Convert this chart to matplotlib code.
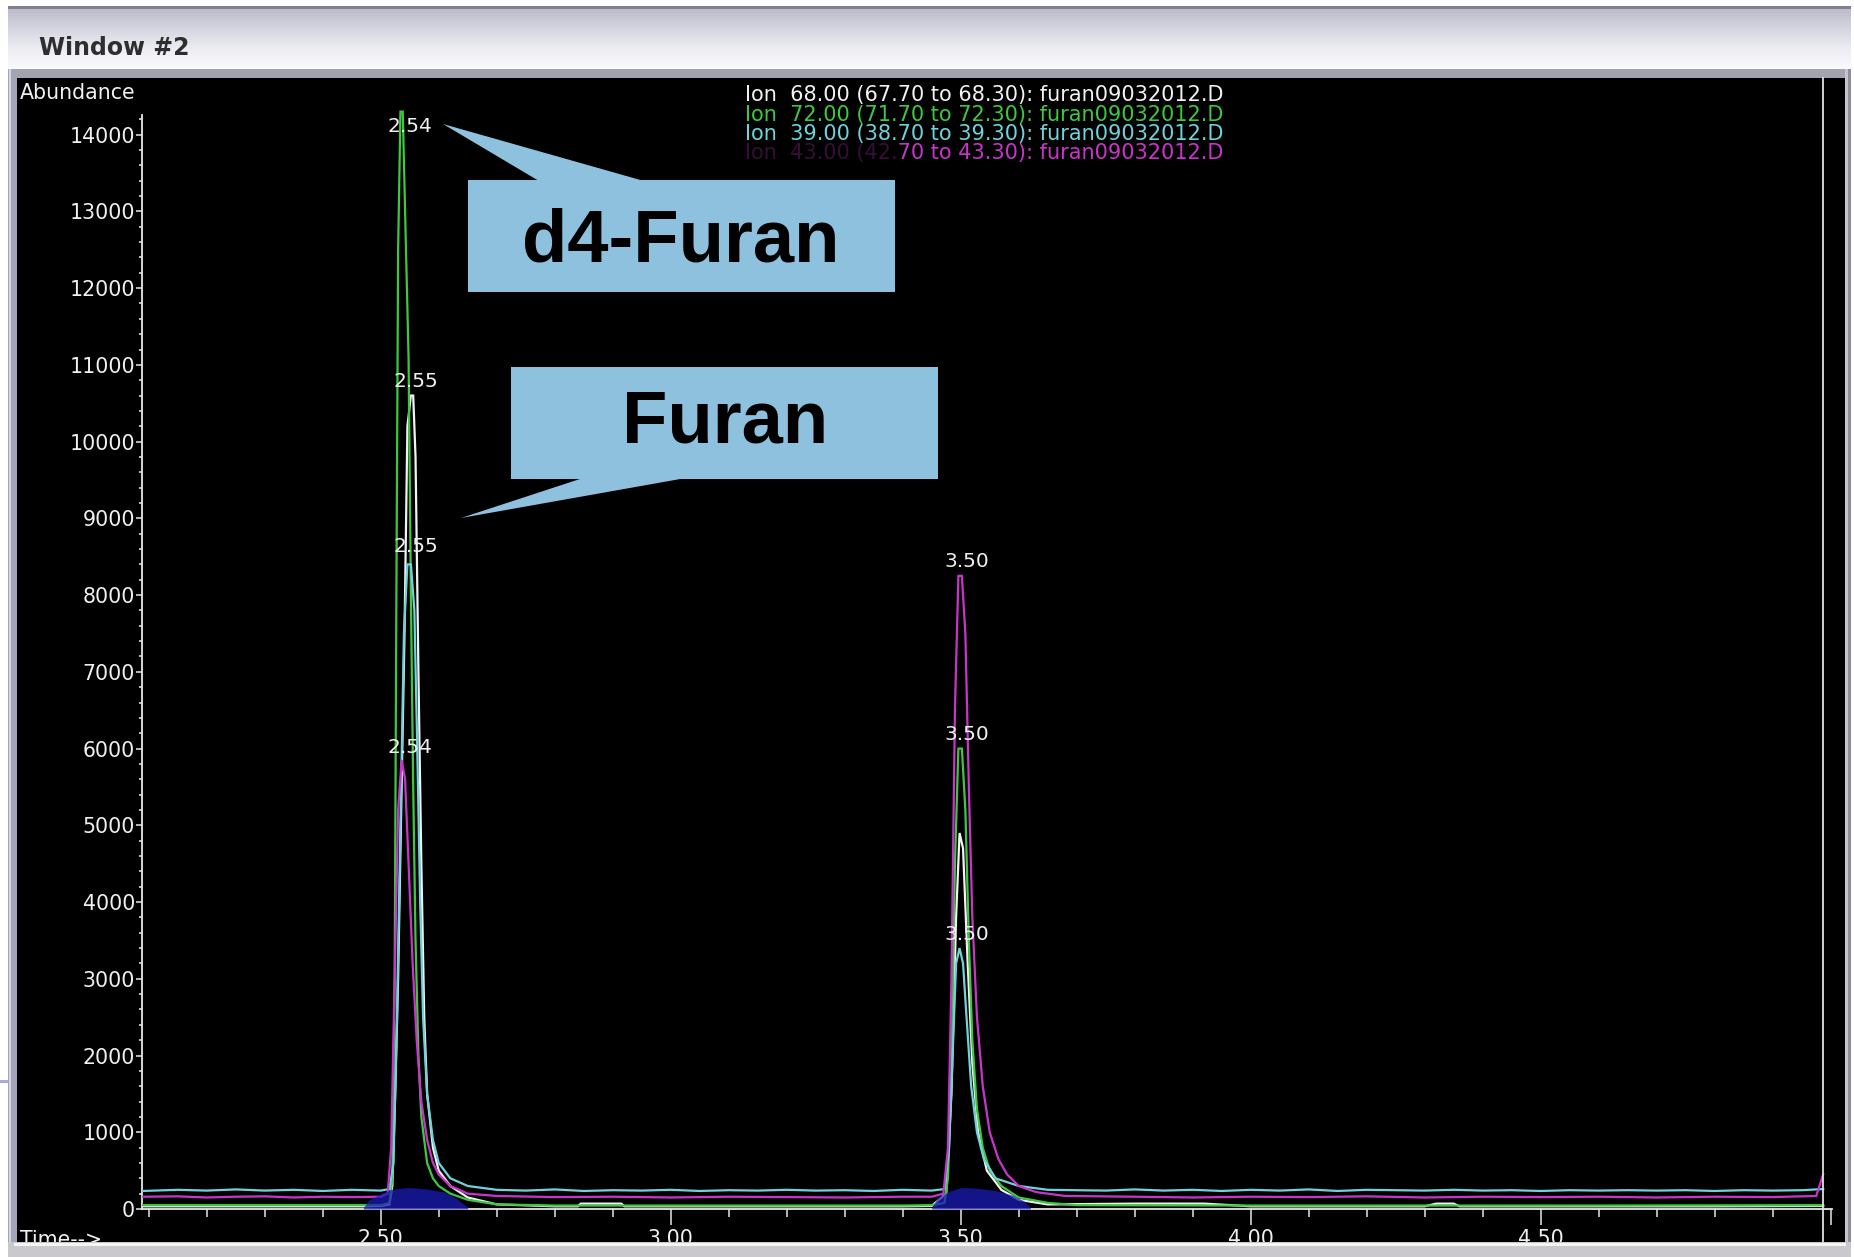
import matplotlib
matplotlib.use("Agg")
import matplotlib.pyplot as plt
from matplotlib.patches import Rectangle, Polygon
from matplotlib.lines import Line2D
from matplotlib.colors import LinearSegmentedColormap
from matplotlib.ticker import FixedLocator
import numpy as np

W, H = 1854, 1257

# ---------------- data ----------------
ion_labels = [
    "Ion  68.00 (67.70 to 68.30): furan09032012.D",
    "Ion  72.00 (71.70 to 72.30): furan09032012.D",
    "Ion  39.00 (38.70 to 39.30): furan09032012.D",
    "Ion  43.00 (42.70 to 43.30): furan09032012.D",
]
ion_colors = ["#f2f2f2", "#3fc83f", "#6fd3da", "#c935c9"]

# Ion 68 (white)
t68 = [2.09, 2.20, 2.30, 2.40, 2.47, 2.50, 2.515, 2.520, 2.525, 2.530, 2.536, 2.541,
       2.546, 2.552, 2.556, 2.560, 2.565, 2.570, 2.575, 2.580, 2.590, 2.600, 2.620,
       2.650, 2.700, 2.80, 2.84, 2.845, 2.915, 2.92, 3.00, 3.20, 3.40, 3.450, 3.475,
       3.484, 3.492, 3.498, 3.504, 3.512, 3.520, 3.530, 3.545, 3.570, 3.600, 3.650,
       3.80, 3.92, 4.00, 4.30, 4.32, 4.35, 4.36, 4.60, 4.80, 4.987]
a68 = [35, 35, 35, 35, 35, 40, 60, 300, 1500, 3000, 5500, 7500,
       10200, 10600, 10600, 9800, 7000, 4500, 2500, 1500, 800, 500, 300,
       150, 60, 35, 35, 70, 70, 35, 35, 35, 35, 40, 200,
       1500, 3800, 4900, 4700, 3200, 1900, 1000, 500, 250, 120, 60,
       70, 70, 35, 35, 70, 70, 35, 35, 35, 40]

# Ion 72 (green)
t72 = [2.09, 2.20, 2.30, 2.40, 2.47, 2.500, 2.515, 2.520, 2.524, 2.527, 2.530, 2.534,
       2.538, 2.542, 2.548, 2.552, 2.556, 2.560, 2.565, 2.570, 2.580, 2.590, 2.600,
       2.620, 2.650, 2.700, 2.80, 3.00, 3.20, 3.40, 3.450, 3.472, 3.478, 3.484, 3.490,
       3.496, 3.502, 3.508, 3.514, 3.520, 3.528, 3.538, 3.550, 3.570, 3.600, 3.650,
       3.700, 4.00, 4.30, 4.60, 4.987]
a72 = [50, 50, 50, 50, 50, 50, 80, 400, 3000, 8000, 12500, 14300,
       14300, 13000, 11100, 8000, 5500, 3500, 2000, 1200, 600, 400, 300,
       200, 120, 60, 45, 45, 45, 45, 50, 80, 400, 1800, 4500,
       6000, 6000, 5200, 3500, 2200, 1300, 800, 500, 300, 150, 80,
       50, 45, 45, 45, 50]

# Ion 39 (cyan)
t39 = [2.09, 2.15, 2.20, 2.25, 2.30, 2.35, 2.40, 2.45, 2.500, 2.515, 2.522, 2.528,
       2.534, 2.540, 2.546, 2.552, 2.558, 2.563, 2.568, 2.573, 2.580, 2.590, 2.600,
       2.620, 2.650, 2.700, 2.75, 2.80, 2.85, 2.90, 2.95, 3.00, 3.05, 3.10, 3.15,
       3.20, 3.25, 3.30, 3.35, 3.40, 3.450, 3.472, 3.480, 3.486, 3.492, 3.498, 3.504,
       3.510, 3.518, 3.528, 3.540, 3.560, 3.600, 3.650, 3.70, 3.75, 3.80, 3.85, 3.90,
       3.95, 4.00, 4.05, 4.10, 4.15, 4.20, 4.25, 4.30, 4.35, 4.40, 4.45, 4.50, 4.55,
       4.60, 4.65, 4.70, 4.75, 4.80, 4.85, 4.90, 4.95, 4.987]
a39 = [235, 250, 240, 255, 240, 250, 235, 250, 240, 260, 600, 2500,
       5000, 7500, 8400, 8400, 7800, 6000, 4000, 2500, 1500, 900, 600,
       400, 300, 250, 240, 255, 235, 245, 240, 250, 235, 245, 240,
       250, 240, 245, 235, 250, 240, 260, 800, 2000, 3200, 3400, 3200,
       2500, 1600, 1000, 650, 400, 300, 250, 245, 240, 255, 240, 250,
       235, 250, 240, 255, 235, 250, 245, 240, 250, 240, 245, 235, 245,
       240, 245, 240, 245, 235, 245, 240, 245, 260]

# Ion 43 (magenta)
t43 = [2.09, 2.15, 2.20, 2.25, 2.30, 2.35, 2.40, 2.45, 2.500, 2.512, 2.518, 2.524,
       2.530, 2.536, 2.542, 2.548, 2.555, 2.562, 2.570, 2.580, 2.590, 2.600, 2.620,
       2.650, 2.700, 2.80, 2.90, 3.00, 3.10, 3.20, 3.30, 3.40, 3.450, 3.470, 3.478,
       3.484, 3.490, 3.496, 3.502, 3.508, 3.514, 3.520, 3.528, 3.538, 3.550, 3.565,
       3.580, 3.600, 3.630, 3.680, 3.80, 3.90, 4.00, 4.10, 4.20, 4.30, 4.40, 4.50,
       4.60, 4.70, 4.80, 4.90, 4.975, 4.987]
a43 = [160, 165, 150, 160, 165, 150, 160, 155, 160, 200, 800, 3000,
       5200, 5850, 5600, 4500, 3200, 2200, 1400, 900, 600, 450, 300,
       200, 170, 155, 160, 150, 160, 155, 150, 160, 160, 200, 800,
       3000, 6500, 8250, 8250, 7500, 5500, 3800, 2500, 1600, 1000, 650,
       450, 300, 220, 170, 160, 150, 160, 155, 165, 150, 160, 155,
       160, 150, 160, 155, 170, 450]

# integrated-baseline region (dark blue)
t_blue1 = [2.47, 2.48, 2.50, 2.52, 2.55, 2.58, 2.61, 2.63, 2.65]
a_blue1 = [20, 120, 200, 260, 280, 260, 220, 140, 20]
t_blue2 = [3.45, 3.46, 3.48, 3.50, 3.53, 3.56, 3.59, 3.61, 3.62]
a_blue2 = [20, 150, 230, 280, 270, 240, 180, 100, 20]

# peak labels (retention time, apex abundance)
peak_rt = [2.54, 2.55, 2.55, 2.54, 3.50, 3.50, 3.50]
peak_ab = [14300, 10600, 8400, 5850, 8250, 6000, 3400]
peak_lbl = ["2.54", "2.55", "2.55", "2.54", "3.50", "3.50", "3.50"]
peak_dy = [-15, 14, 18, 13, 14, 14, 14]

x_major = [2.50, 3.00, 3.50, 4.00, 4.50, 5.00]
x_major_lbl = ["2.50", "3.00", "3.50", "4.00", "4.50", ""]
y_major = list(range(0, 14001, 1000))
y_minor = [v for v in range(200, 14201, 200) if v % 1000 != 0]
x_minor = [round(2.1 + 0.1 * i, 2) for i in range(29)]

callouts = ["d4-Furan", "Furan"]

# ---------------- figure ----------------
fig = plt.figure(figsize=(W / 100, H / 100), dpi=100)
fig.patch.set_facecolor("white")


def fr(x0, y0, x1, y1, color, z, **kw):
    """rectangle given in pixel coords (top-left origin)"""
    r = Rectangle((x0 / W, 1 - y1 / H), (x1 - x0) / W, (y1 - y0) / H,
                  transform=fig.transFigure, facecolor=color, edgecolor="none",
                  zorder=z, **kw)
    fig.add_artist(r)
    return r


def P(x, y):
    return (x / W, 1 - y / H)


# window frame
fr(8, 6, 1851, 9, "#808090", -5)
fr(8, 69, 1851, 78, "#a4a4b0", -5)
fr(8, 69, 17, 1257, "#a4a4b8", -5)
fr(9, 69, 11, 1257, "#d4d4e2", -4)
fr(1845, 9, 1851, 1257, "#c4c4cc", -5)
fr(1848, 9, 1851, 1257, "#8e8e98", -4)
fr(8, 1242, 1851, 1257, "#c9c9cd", 10)
fr(14, 1243, 1846, 1246, "#f4f4f4", 11)
fr(0, 1080, 8, 1083, "#a8a8e8", -5)

# title bar gradient
tax = fig.add_axes([8 / W, 1 - 69 / H, (1851 - 8) / W, (69 - 9) / H], zorder=-3)
cmap = LinearSegmentedColormap.from_list("tb", ["#bcbccc", "#d6d6e2", "#ececf3", "#fafafd"])
tax.imshow(np.linspace(0, 1, 64).reshape(-1, 1), aspect="auto", cmap=cmap,
           extent=(0, 1, 0, 1), origin="upper")
tax.set_axis_off()
fig.text(39 / W, 1 - 48 / H, "Window #2", fontsize=17, fontweight="bold",
         color="#2e2e2e", va="center", ha="left", family="DejaVu Sans")

# black chart panel
fr(17, 78, 1845, 1242, "black", -2)

# data axes
ax = fig.add_axes([142 / W, 1 - 1209 / H, (1832 - 142) / W, (1209 - 78) / H])
ax.set_facecolor("none")
ax.set_xlim(2.0884, 5.0022)
ax.set_ylim(0, 14738)

for t, a, c in zip([t68, t72, t39, t43], [a68, a72, a39, a43], ion_colors):
    ax.plot(t, a, color=c, lw=1.6, solid_joinstyle="miter", zorder=3)

for tb, ab in [(t_blue1, a_blue1), (t_blue2, a_blue2)]:
    ax.fill_between(tb, 0, ab, color="#1c1cb8", alpha=0.75, lw=0, zorder=4)

for rt, ab, lbl, dy in zip(peak_rt, peak_ab, peak_lbl, peak_dy):
    ax.annotate(lbl, xy=(rt, ab), xytext=(6, dy), textcoords="offset pixels",
                ha="center", va="center", color="#f0f0f0", fontsize=14.5,
                family="DejaVu Sans", zorder=6)

# spines / ticks
for s in ["top", "right"]:
    ax.spines[s].set_visible(False)
ax.spines["left"].set_color("#e8e8e8")
ax.spines["bottom"].set_color("#e8e8e8")
ax.spines["left"].set_linewidth(1.3)
ax.spines["bottom"].set_linewidth(1.3)
ax.spines["left"].set_bounds(0, 14250)

ax.xaxis.set_major_locator(FixedLocator(x_major))
ax.set_xticklabels(x_major_lbl)
ax.xaxis.set_minor_locator(FixedLocator([v for v in x_minor if v not in x_major]))
ax.yaxis.set_major_locator(FixedLocator(y_major))
ax.set_yticklabels([str(v) for v in y_major])
ax.yaxis.set_minor_locator(FixedLocator(y_minor))

ax.tick_params(axis="x", which="major", length=11.5, width=1.1, color="#e8e8e8",
               labelcolor="#f0f0f0", labelsize=14.8, pad=3)
ax.tick_params(axis="x", which="minor", length=5.8, width=1.1, color="#e8e8e8")
ax.tick_params(axis="y", which="major", length=4.3, width=1.1, color="#e8e8e8",
               labelcolor="#f0f0f0", labelsize=14.8, pad=0.8)
ax.tick_params(axis="y", which="minor", length=2.4, width=1.1, color="#e8e8e8")
for lab in ax.get_xticklabels() + ax.get_yticklabels():
    lab.set_family("DejaVu Sans")

# right cursor line of the plot frame
fig.add_artist(Line2D([1823 / W, 1823 / W], [1 - 78 / H, 1 - 1242 / H],
                      transform=fig.transFigure, color="#e0e0e0", lw=1.3, zorder=2))

# axis titles
fig.text(20 / W, 1 - 93 / H, "Abundance", fontsize=14.8, color="#f0f0f0",
         va="center", ha="left", family="DejaVu Sans")
fig.text(20 / W, 1 - 1230 / H, "Time-->", fontsize=14.8, color="#f0f0f0",
         va="top", ha="left", family="DejaVu Sans", zorder=1)

# ion legend
leg_y = [95, 114.5, 134, 153.5]
for lbl, c, yy in zip(ion_labels, ion_colors, leg_y):
    fig.text(745 / W, 1 - yy / H, lbl, fontsize=15, color=c, va="center",
             ha="left", family="DejaVu Sans", zorder=5)
fr(740, 143, 897, 166, "black", 6, alpha=0.72)

# callouts
box_col = "#8ec1de"
fr(468, 180, 895, 292, box_col, 7)
fig.add_artist(Polygon([P(443, 124), P(539, 181), P(644, 181)], closed=True,
                       transform=fig.transFigure, facecolor=box_col,
                       edgecolor="none", zorder=7))
fig.text(P(681, 242)[0], P(681, 242)[1], callouts[0], fontsize=53.5,
         fontweight="bold", family="Liberation Sans", color="black",
         ha="center", va="center", zorder=8)

fr(511, 367, 938, 479, box_col, 7)
fig.add_artist(Polygon([P(461, 518), P(583, 478), P(686, 478)], closed=True,
                       transform=fig.transFigure, facecolor=box_col,
                       edgecolor="none", zorder=7))
fig.text(P(725, 423)[0], P(725, 423)[1], callouts[1], fontsize=53.5,
         fontweight="bold", family="Liberation Sans", color="black",
         ha="center", va="center", zorder=8)

fig.savefig("out.png", dpi=100, facecolor=fig.get_facecolor())
